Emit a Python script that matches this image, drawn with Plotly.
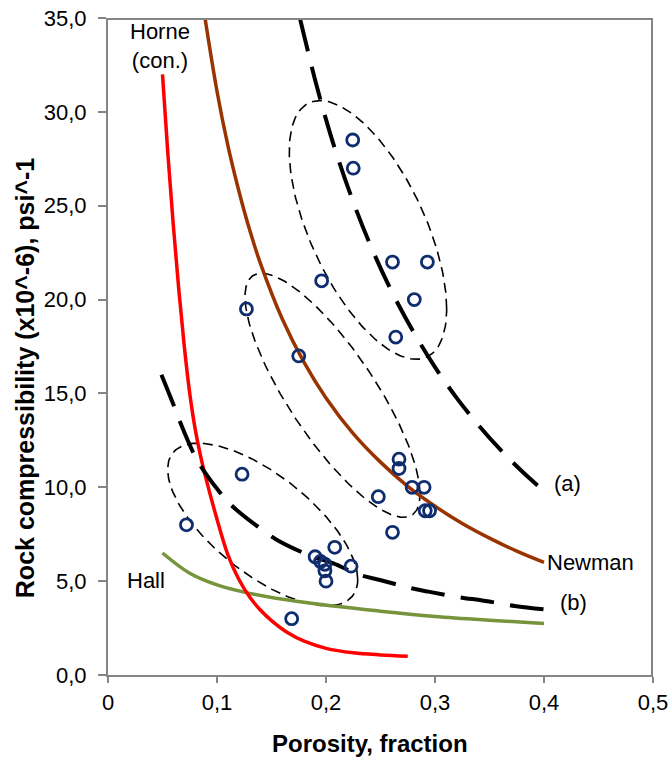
import numpy as np
import plotly.graph_objects as go

# ---------------- data ----------------
# measured samples (porosity, compressibility x10^-6 psi^-1)
pts_x = [0.2245, 0.225, 0.261, 0.293, 0.196, 0.281, 0.264, 0.175, 0.127,
         0.267, 0.267, 0.248, 0.279, 0.290, 0.291, 0.295, 0.261, 0.123,
         0.072, 0.190, 0.208, 0.195, 0.199, 0.199, 0.200, 0.223, 0.1685]
pts_y = [28.5, 27.0, 22.0, 22.0, 21.0, 20.0, 18.0, 17.0, 19.5,
         11.5, 11.0, 9.5, 10.0, 10.0, 8.75, 8.75, 7.6, 10.7,
         8.0, 6.3, 6.8, 6.05, 5.9, 5.55, 5.0, 5.8, 3.0]

horne_x = [0.05, 0.055, 0.06, 0.065, 0.07, 0.075, 0.08, 0.085, 0.09, 0.10, 0.11,
           0.12, 0.13, 0.14, 0.15, 0.165, 0.18, 0.20, 0.225, 0.25, 0.275]
horne_y = [32.0, 27.7, 23.9, 20.5, 17.5, 15.0, 13.1, 11.65, 10.45, 8.3, 6.4,
           5.1, 4.15, 3.45, 2.9, 2.25, 1.8, 1.42, 1.18, 1.07, 1.0]

newman_x = [0.089, 0.10, 0.11, 0.12, 0.13, 0.14, 0.16, 0.18, 0.20, 0.225,
            0.25, 0.275, 0.30, 0.325, 0.35, 0.375, 0.40]
newman_y = [35.0, 31.1, 28.2, 25.8, 23.7, 21.9, 18.95, 16.64, 14.76, 12.86,
            11.34, 10.05, 8.99, 8.07, 7.29, 6.6, 6.0]

a_x = [0.176, 0.19, 0.20, 0.21, 0.225, 0.24, 0.26, 0.28, 0.30, 0.32, 0.34,
       0.36, 0.38, 0.40]
a_y = [35.0, 31.7, 29.6, 27.7, 25.2, 23.0, 20.46, 18.3, 16.4, 14.75, 13.3,
       12.0, 10.84, 9.8]

b_x = [0.049, 0.0606, 0.0667, 0.0789, 0.0874, 0.1073, 0.118, 0.144, 0.158,
       0.188, 0.2067, 0.231, 0.2495, 0.2786, 0.294, 0.3275, 0.341, 0.373, 0.40]
b_y = [16.0, 14.33, 13.4, 11.77, 10.92, 9.41, 8.79, 7.63, 7.1,
       6.3, 5.95, 5.33, 5.06, 4.62, 4.44, 4.09, 4.0, 3.68, 3.5]

hall_x = [0.05, 0.075, 0.10, 0.13, 0.176, 0.25, 0.30, 0.35, 0.40]
hall_y = [6.5, 5.42, 4.8, 4.35, 3.9, 3.4, 3.12, 2.92, 2.75]

# grouping ellipses: centre x, centre y, half-width, half-height, x-offset of top point
ell_cx = [0.2385, 0.206, 0.1419]
ell_cy = [23.71, 14.90, 8.02]
ell_hw = [0.0722, 0.0803, 0.0872]
ell_hh = [6.89, 6.50, 4.33]
ell_xt = [-0.044, -0.065, -0.0591]

x_range = [0, 0.5]
y_range = [0, 35]
x_ticks = [0, 0.1, 0.2, 0.3, 0.4, 0.5]
x_labels = ["0", "0,1", "0,2", "0,3", "0,4", "0,5"]
y_ticks = [0, 5, 10, 15, 20, 25, 30, 35]
y_labels = ["0,0", "5,0", "10,0", "15,0", "20,0", "25,0", "30,0", "35,0"]

# ---------------- figure ----------------
FONT = "Liberation Sans, Arial, sans-serif"
FRAME = "#858585"
fig = go.Figure()

# ellipses
t = np.linspace(0, 2 * np.pi, 240)
for cx, cy, hw, hh, xt in zip(ell_cx, ell_cy, ell_hw, ell_hh, ell_xt):
    phi = np.arccos(xt / hw)
    ex = cx + hw * np.cos(t)
    ey = cy + hh * np.cos(t - phi)
    fig.add_trace(go.Scatter(x=ex, y=ey, mode="lines",
                             line=dict(color="black", width=1.6, dash="10px,6px"),
                             hoverinfo="skip", showlegend=False))

fig.add_trace(go.Scatter(x=hall_x, y=hall_y, mode="lines",
                         line=dict(color="#77933C", width=3.5, shape="spline"),
                         showlegend=False))
fig.add_trace(go.Scatter(x=horne_x, y=horne_y, mode="lines",
                         line=dict(color="#FF0000", width=3.5, shape="spline"),
                         showlegend=False))
fig.add_trace(go.Scatter(x=newman_x, y=newman_y, mode="lines",
                         line=dict(color="#993300", width=3.5, shape="spline"),
                         showlegend=False))
fig.add_trace(go.Scatter(x=a_x, y=a_y, mode="lines",
                         line=dict(color="black", width=4, dash="34px,16px", shape="spline"),
                         showlegend=False))
fig.add_trace(go.Scatter(x=b_x, y=b_y, mode="lines",
                         line=dict(color="black", width=4, dash="34px,16px", shape="spline"),
                         showlegend=False))
fig.add_trace(go.Scatter(x=pts_x, y=pts_y, mode="markers",
                         marker=dict(symbol="circle-open", size=12, color="#0F2D6E",
                                     line=dict(width=2.8, color="#0F2D6E")),
                         showlegend=False))

# top and right border of the plot area (half of the stroke is clipped away)
fig.add_trace(go.Scatter(x=[x_range[0], x_range[1], x_range[1]],
                         y=[y_range[1], y_range[1], y_range[0]], mode="lines",
                         line=dict(color=FRAME, width=4), hoverinfo="skip",
                         showlegend=False))

lab_font = dict(family=FONT, size=22, color="black")
annots = [
    dict(x=0.0477, y=33.5, text="Horne<br>(con.)", xanchor="center", yanchor="middle"),
    dict(x=0.407, y=10.2, text="(a)", xanchor="left", yanchor="middle"),
    dict(x=0.401, y=6.0, text="Newman", xanchor="left", yanchor="middle"),
    dict(x=0.413, y=3.85, text="(b)", xanchor="left", yanchor="middle"),
    dict(x=0.016, y=5.06, text="Hall", xanchor="left", yanchor="middle"),
]
for a in annots:
    fig.add_annotation(xref="x", yref="y", showarrow=False, font=lab_font, **a)

fig.add_annotation(xref="paper", yref="paper", x=0.481, y=-0.105, showarrow=False,
                   text="Porosity, fraction",
                   font=dict(family=FONT, size=24, color="black", weight="bold"),
                   xanchor="center", yanchor="middle")
fig.add_annotation(xref="paper", yref="paper", x=-0.152, y=0.452, showarrow=False,
                   text="Rock compressibility (x10^-6), psi^-1",
                   font=dict(family=FONT, size=25, color="black", weight="bold"),
                   textangle=-90, xanchor="center", yanchor="middle")

axis_common = dict(showline=True, linecolor=FRAME, linewidth=2,
                   showgrid=False, zeroline=False, ticks="outside", tickcolor=FRAME,
                   tickwidth=1.5, automargin=False, ticklabeloverflow="allow",
                   tickfont=dict(family=FONT, size=22, color="black"))
fig.update_xaxes(range=x_range, tickvals=x_ticks, ticktext=x_labels, ticklen=6,
                 ticklabelstandoff=1, **axis_common)
fig.update_yaxes(range=y_range, tickvals=y_ticks, ticktext=y_labels, ticklen=8,
                 ticklabelstandoff=7, **axis_common)

fig.update_layout(width=670, height=758, margin=dict(l=108, r=17, t=18, b=83),
                  paper_bgcolor="white", plot_bgcolor="white", showlegend=False)

# remove the browser's default page margin so the figure sits at the page origin
fig.write_html("out.html", config={"displayModeBar": False},
               post_script="document.body.style.margin='0';document.body.style.overflow='hidden';")
